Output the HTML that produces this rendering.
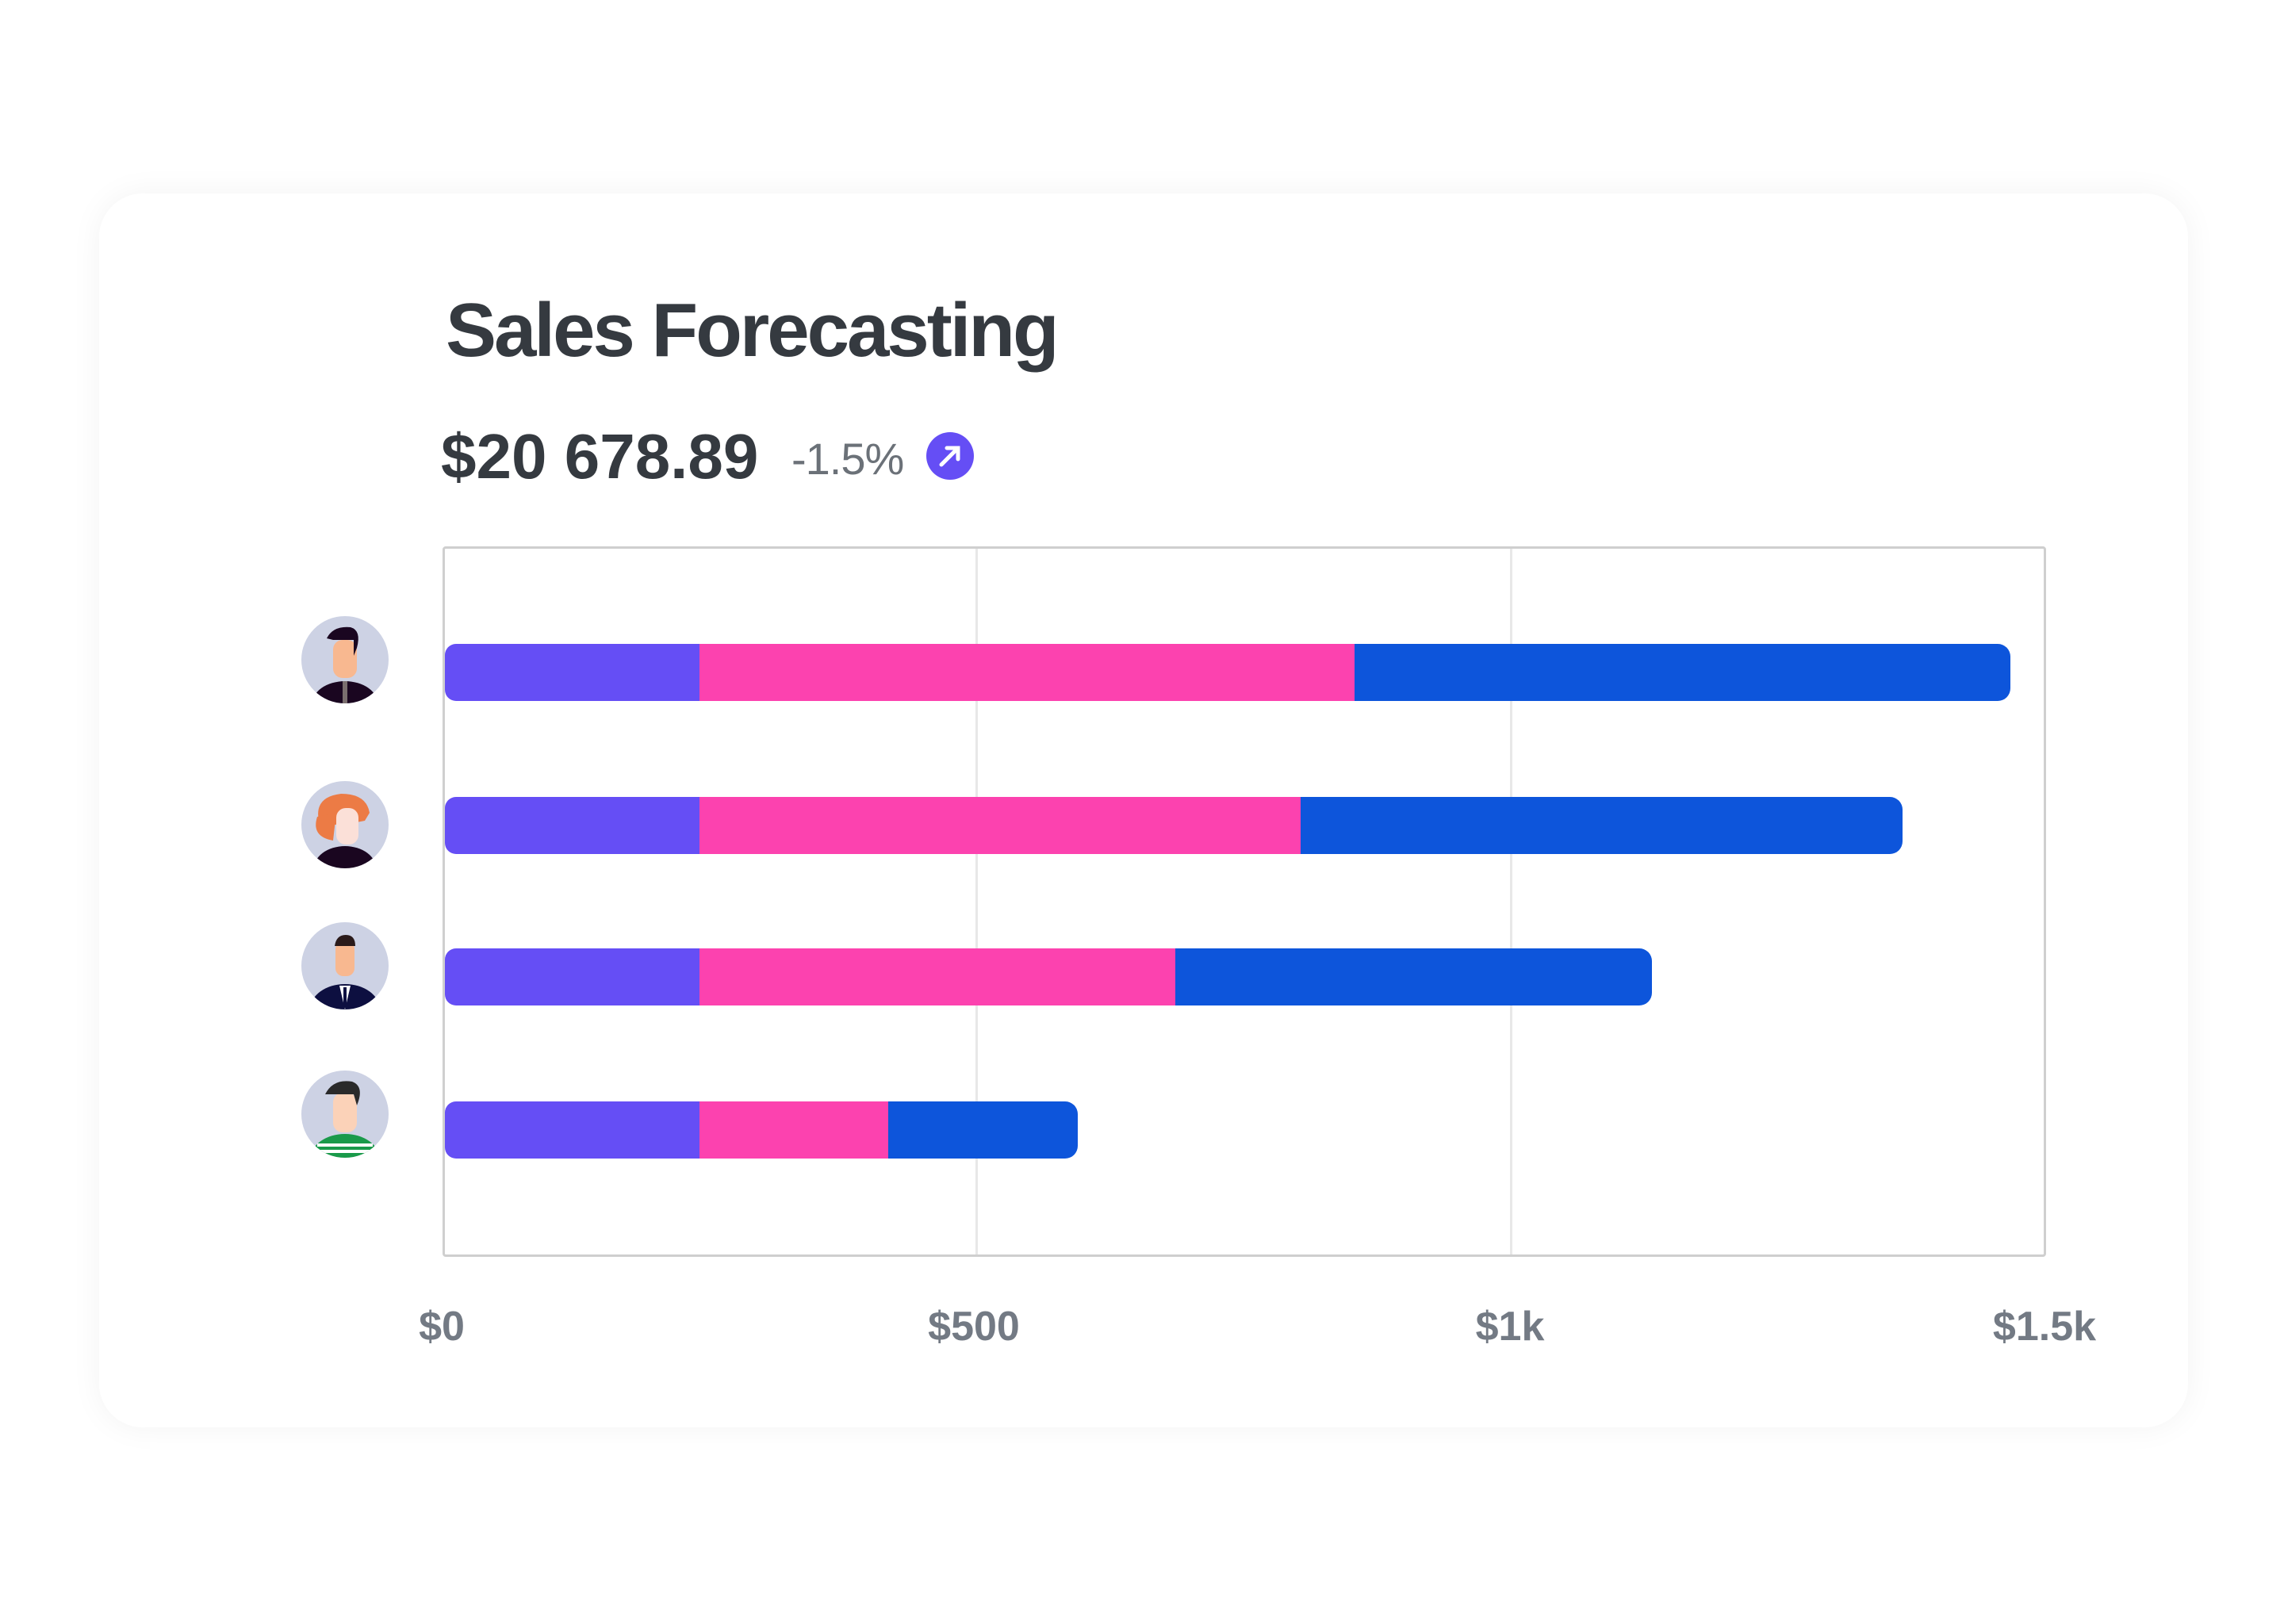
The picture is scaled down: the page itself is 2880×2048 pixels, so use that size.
<!DOCTYPE html>
<html><head><meta charset="utf-8"><style>
html,body{margin:0;padding:0;background:#fff;width:2880px;height:2048px;overflow:hidden;font-family:"Liberation Sans",sans-serif}
.card{position:absolute;left:125px;top:244px;width:2634px;height:1556px;border-radius:55px;background:#fff;box-shadow:0 0 40px rgba(0,0,0,0.05)}
.t{position:absolute;white-space:nowrap}
.bar{position:absolute;height:72px;display:flex;border-radius:0 16px 16px 0;overflow:hidden}
.bar div{height:100%}
.p{background:#654ef5;border-radius:14px 0 0 14px}.k{background:#fc42af}.b{background:#0d55db}
.ax{position:absolute;top:1643px;font-size:52px;font-weight:bold;color:#737a84;transform:translateX(-50%)}
.av{position:absolute;left:380px;width:110px;height:110px;border-radius:50%;background:#cdd2e4;overflow:hidden}
</style></head><body>
<div class="card"></div>
<div class="t" style="left:562px;top:362px;font-size:96px;font-weight:bold;color:#353a40;letter-spacing:-3px">Sales Forecasting</div>
<div class="t" style="left:556px;top:530px;font-size:80px;font-weight:bold;color:#353a40;letter-spacing:0px">$20 678.89</div>
<div class="t" style="left:998px;top:546px;font-size:56px;color:#6b7178;letter-spacing:-1px">-1.5%</div>
<svg style="position:absolute;left:1168px;top:545px" width="60" height="60"><circle cx="30" cy="30" r="30" fill="#654ef5"/><path d="M19 41 L40 20 M26 20 H40 V34" stroke="#fff" stroke-width="5" fill="none" stroke-linecap="round"/></svg>
<div style="position:absolute;left:558px;top:689px;width:2016px;height:890px;border:3px solid #cfcfcf;border-radius:4px"></div>
<div style="position:absolute;left:1230px;top:692px;width:3px;height:890px;background:#e8e8e8"></div>
<div style="position:absolute;left:1904px;top:692px;width:3px;height:890px;background:#e8e8e8"></div>
<div class="bar" style="left:561px;top:812px"><div class="p" style="width:321px"></div><div class="k" style="width:826px"></div><div class="b" style="width:827px"></div></div>
<div class="bar" style="left:561px;top:1005px"><div class="p" style="width:321px"></div><div class="k" style="width:758px"></div><div class="b" style="width:759px"></div></div>
<div class="bar" style="left:561px;top:1196px"><div class="p" style="width:321px"></div><div class="k" style="width:600px"></div><div class="b" style="width:601px"></div></div>
<div class="bar" style="left:561px;top:1389px"><div class="p" style="width:321px"></div><div class="k" style="width:238px"></div><div class="b" style="width:239px"></div></div>
<div class="ax" style="left:557px">$0</div>
<div class="ax" style="left:1228px">$500</div>
<div class="ax" style="left:1904px">$1k</div>
<div class="ax" style="left:2578px">$1.5k</div>
<div class="av" style="top:777px"><svg width="110" height="110"><ellipse cx="55" cy="112" rx="42" ry="30" fill="#1a0620"/><rect x="40" y="30" width="30" height="48" rx="12" fill="#f8b890"/><path d="M32 28 Q40 12 62 14 Q76 18 70 40 L66 50 L66 30 Q50 30 40 30 Z" fill="#1a0620"/><rect x="52" y="82" width="6" height="28" fill="#7a6e6e"/></svg></div>
<div class="av" style="top:985px"><svg width="110" height="110"><ellipse cx="55" cy="112" rx="40" ry="30" fill="#1a0620"/><path d="M22 50 Q16 20 50 16 Q82 16 86 40 L80 50 Q30 60 22 50Z" fill="#ec7b45"/><rect x="44" y="34" width="28" height="46" rx="12" fill="#fbe0d8"/><path d="M20 45 Q12 70 40 75 L44 40Z" fill="#ec7b45"/></svg></div>
<div class="av" style="top:1163px"><svg width="110" height="110"><ellipse cx="55" cy="110" rx="44" ry="32" fill="#0d0f40"/><rect x="43" y="24" width="24" height="44" rx="10" fill="#f8b890"/><path d="M42 30 Q44 16 56 16 Q68 16 68 30 Z" fill="#2a1a1a"/><path d="M48 80 L55 110 L62 80Z" fill="#fff"/><rect x="53" y="82" width="4" height="26" fill="#0d0f40"/></svg></div>
<div class="av" style="top:1350px"><svg width="110" height="110"><ellipse cx="55" cy="112" rx="44" ry="32" fill="#1a9a4a"/><rect x="20" y="92" width="70" height="4" fill="#fff"/><rect x="20" y="100" width="70" height="4" fill="#fff"/><rect x="40" y="28" width="30" height="50" rx="12" fill="#fbd2b8"/><path d="M30 30 Q40 10 64 14 Q80 20 70 44 L66 30 Q50 30 30 30Z" fill="#2a2a2a"/></svg></div>
</body></html>
